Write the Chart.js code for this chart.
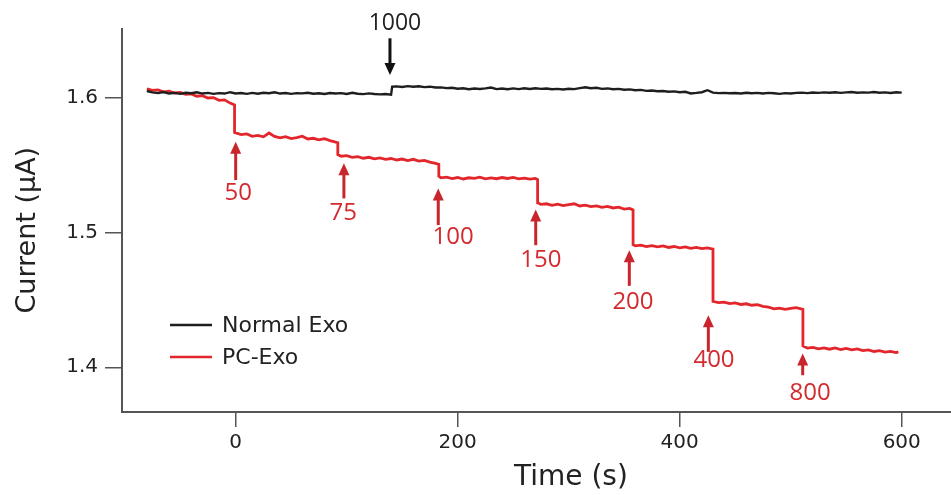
<!DOCTYPE html>
<html>
<head>
<meta charset="utf-8">
<title>Current vs time</title>
<script src="https://cdn.jsdelivr.net/npm/chart.js@4"></script>
<style>
  body { margin: 0; background: #fff; }
  #chart { display: block; }
</style>
</head>
<body>
<canvas id="chart" width="951" height="495"></canvas>
<script>
  // tick labels
  const xTicks = [0, 200, 400, 600];
  const yTicks = [1.4, 1.5, 1.6];

  // Normal Exo (black trace)
  const blackTime = [
    -80, -75, -70, -65, -60, -55, -50, -45, -40, -35, -30, -25, -20, -15, -10, -5,
    0, 5, 10, 15, 20, 25, 30, 35, 40, 45, 50, 55, 60, 65, 70, 75, 80, 85, 90, 95,
    100, 105, 110, 115, 120, 125, 130, 135, 140, 141, 145, 150, 155, 160, 165, 170, 175, 180, 185, 190, 195,
    200, 205, 210, 215, 220, 225, 230, 235, 240, 245, 250, 255, 260, 265, 270, 275, 280, 285, 290, 295,
    300, 305, 310, 315, 320, 325, 330, 335, 340, 345, 350, 355, 360, 365, 370, 375, 380, 385, 390, 395,
    400, 405, 410, 415, 420, 425, 430, 435, 440, 445, 450, 455, 460, 465, 470, 475, 480, 485, 490, 495,
    500, 505, 510, 515, 520, 525, 530, 535, 540, 545, 550, 555, 560, 565, 570, 575, 580, 585, 590, 595, 600
  ];
  const blackCurrent = [
    1.6050, 1.6040, 1.6034, 1.6042, 1.6031, 1.6036, 1.6029, 1.6037, 1.6033, 1.6040, 1.6031, 1.6036, 1.6029, 1.6034, 1.6031, 1.6041,
    1.6032, 1.6035, 1.6029, 1.6036, 1.6030, 1.6037, 1.6033, 1.6040, 1.6031, 1.6035, 1.6029, 1.6034, 1.6032, 1.6037, 1.6030, 1.6033, 1.6028, 1.6035, 1.6031, 1.6034,
    1.6028, 1.6037, 1.6030, 1.6027, 1.6032, 1.6028, 1.6025, 1.6028, 1.6023, 1.6082, 1.6084, 1.6080, 1.6086, 1.6082, 1.6085, 1.6079, 1.6082, 1.6076, 1.6077, 1.6071, 1.6074,
    1.6067, 1.6070, 1.6063, 1.6068, 1.6065, 1.6069, 1.6076, 1.6064, 1.6068, 1.6063, 1.6069, 1.6064, 1.6070, 1.6065, 1.6070, 1.6066, 1.6068, 1.6063, 1.6066, 1.6061,
    1.6067, 1.6064, 1.6071, 1.6078, 1.6070, 1.6074, 1.6066, 1.6069, 1.6063, 1.6066, 1.6059, 1.6062, 1.6056, 1.6058, 1.6051, 1.6054, 1.6048, 1.6050, 1.6044, 1.6047,
    1.6041, 1.6044, 1.6032, 1.6036, 1.6041, 1.6056, 1.6038, 1.6034, 1.6036, 1.6033, 1.6035, 1.6031, 1.6037, 1.6033, 1.6036, 1.6031, 1.6036, 1.6033, 1.6029, 1.6034,
    1.6031, 1.6036, 1.6038, 1.6034, 1.6039, 1.6036, 1.6040, 1.6037, 1.6041, 1.6036, 1.6040, 1.6042, 1.6037, 1.6040, 1.6038, 1.6042, 1.6037, 1.6040, 1.6035, 1.6041, 1.6038
  ];

  // PC-Exo (red trace)
  const redTime = [
    -80, -75, -70, -65, -60, -55, -50, -45, -40, -35, -30, -25, -20, -15, -10, -5, -1,
    -1, 5, 10, 15, 20, 25, 30, 35, 40, 45, 50, 55, 60, 65, 70, 75, 80, 85, 90, 92,
    92, 95, 100, 105, 110, 115, 120, 125, 130, 135, 140, 145, 150, 155, 160, 165, 170, 175, 180, 183,
    183, 185, 190, 195, 200, 205, 210, 215, 220, 225, 230, 235, 240, 245, 250, 255, 260, 265, 270, 272,
    272, 275, 280, 285, 290, 295, 300, 305, 310, 315, 320, 325, 330, 335, 340, 345, 350, 355, 358,
    358, 360, 365, 370, 375, 380, 385, 390, 395, 400, 405, 410, 415, 420, 425, 430,
    430, 435, 440, 445, 450, 455, 460, 465, 470, 475, 480, 485, 490, 495, 500, 505, 511,
    511, 515, 520, 525, 530, 535, 540, 545, 550, 555, 560, 565, 570, 575, 580, 585, 590, 595, 597
  ];
  const redCurrent = [
    1.6065, 1.6054, 1.6058, 1.6044, 1.6049, 1.6035, 1.6040, 1.6025, 1.6028, 1.6011, 1.6015, 1.5998, 1.6001, 1.5981, 1.5984, 1.5960, 1.5946,
    1.5742, 1.5726, 1.5731, 1.5714, 1.5720, 1.5710, 1.5738, 1.5713, 1.5703, 1.5711, 1.5697, 1.5704, 1.5715, 1.5694, 1.5699, 1.5688, 1.5696, 1.5682, 1.5670, 1.5666,
    1.5578, 1.5566, 1.5570, 1.5557, 1.5563, 1.5551, 1.5558, 1.5547, 1.5554, 1.5543, 1.5549, 1.5538, 1.5545, 1.5534, 1.5543, 1.5530, 1.5535, 1.5522, 1.5513, 1.5506,
    1.5417, 1.5406, 1.5411, 1.5400, 1.5408, 1.5397, 1.5406, 1.5401, 1.5410, 1.5398, 1.5405, 1.5399, 1.5408, 1.5401, 1.5409, 1.5398, 1.5404, 1.5396, 1.5401, 1.5393,
    1.5220, 1.5209, 1.5213, 1.5202, 1.5210, 1.5199, 1.5206, 1.5213, 1.5197, 1.5203, 1.5192, 1.5197, 1.5187, 1.5194, 1.5182, 1.5188, 1.5174, 1.5179, 1.5167,
    1.4910, 1.4901, 1.4906, 1.4896, 1.4903, 1.4894, 1.4900, 1.4889, 1.4896, 1.4886, 1.4893, 1.4883, 1.4890, 1.4880, 1.4886, 1.4876,
    1.4488, 1.4479, 1.4483, 1.4472, 1.4477, 1.4466, 1.4471, 1.4460, 1.4464, 1.4452, 1.4446, 1.4433, 1.4439, 1.4430, 1.4437, 1.4443, 1.4430,
    1.4158, 1.4142, 1.4148, 1.4137, 1.4144, 1.4134, 1.4143, 1.4131, 1.4140, 1.4129, 1.4136, 1.4124, 1.4129, 1.4117, 1.4123, 1.4112, 1.4118, 1.4109, 1.4114
  ];

  // dose annotations (arrow position in data units)
  const doseLabels = ["50", "75", "100", "150", "200", "400", "800"];
  const doseTime = [0, 97.5, 182.5, 270.3, 354.6, 425.8, 510.8];
  const doseTip = [1.5673, 1.5513, 1.5327, 1.5171, 1.4869, 1.4386, 1.4102];
  const doseTail = [1.5389, 1.5253, 1.5055, 1.4906, 1.4604, 1.4114, 1.3941];
  const doseLabelTime = [2.3, 96.9, 195.8, 275, 357.9, 430.9, 517.4];
  const doseLabelCurrent = [1.529, 1.5141, 1.4962, 1.4795, 1.4483, 1.4052, 1.3805];

  const controlLabel = "1000";
  const controlTime = 139;
  const controlTail = 1.6441;
  const controlTip = 1.6169;
  const controlLabelCurrent = 1.655;

  const toPoints = (ts, vs) => ts.map((t, i) => ({ x: t, y: vs[i] }));

  function drawArrow(ctx, x, yTail, yTip, color) {
    const dir = yTip < yTail ? -1 : 1;
    ctx.save();
    ctx.strokeStyle = color;
    ctx.fillStyle = color;
    ctx.lineWidth = 3;
    ctx.beginPath();
    ctx.moveTo(x, yTail);
    ctx.lineTo(x, yTip - dir * 9);
    ctx.stroke();
    ctx.beginPath();
    ctx.moveTo(x, yTip);
    ctx.lineTo(x - 5.5, yTip - dir * 12);
    ctx.lineTo(x + 5.5, yTip - dir * 12);
    ctx.closePath();
    ctx.fill();
    ctx.restore();
  }

  const annotations = {
    id: "annotations",
    afterDraw(chart) {
      const ctx = chart.ctx;
      const xs = chart.scales.x, ys = chart.scales.y;
      const area = chart.chartArea;

      ctx.save();
      ctx.textAlign = "center";
      ctx.textBaseline = "middle";
      ctx.font = "24px 'Open Sans'";
      doseLabels.forEach((lab, i) => {
        const x = xs.getPixelForValue(doseTime[i]);
        drawArrow(ctx, x, ys.getPixelForValue(doseTail[i]), ys.getPixelForValue(doseTip[i]), "#c8262c");
        ctx.fillStyle = "#d32a2e";
        ctx.fillText(lab, xs.getPixelForValue(doseLabelTime[i]), ys.getPixelForValue(doseLabelCurrent[i]));
      });

      const cx = xs.getPixelForValue(controlTime);
      drawArrow(ctx, cx, ys.getPixelForValue(controlTail), ys.getPixelForValue(controlTip), "#111");
      ctx.fillStyle = "#222";
      ctx.font = "23px 'Open Sans'";
      ctx.fillText(controlLabel, cx + 5, ys.getPixelForValue(controlLabelCurrent));

      // legend
      ctx.font = "22px 'DejaVu Sans'";
      ctx.textAlign = "left";
      chart.data.datasets.forEach((ds, i) => {
        const y = area.top + 296 + i * 32;
        ctx.strokeStyle = ds.borderColor;
        ctx.lineWidth = 2.5;
        ctx.beginPath();
        ctx.moveTo(area.left + 48, y);
        ctx.lineTo(area.left + 90, y);
        ctx.stroke();
        ctx.fillStyle = "#222";
        ctx.fillText(ds.label, area.left + 100, y + 1);
      });

      // axis titles
      ctx.fillStyle = "#222";
      ctx.textAlign = "center";
      ctx.font = "28px 'DejaVu Sans'";
      ctx.fillText("Time (s)", xs.getPixelForValue(302), area.bottom + 66);
      ctx.translate(area.left - 94, ys.getPixelForValue(1.5017));
      ctx.rotate(-Math.PI / 2);
      ctx.font = "27px 'DejaVu Sans'";
      ctx.fillText("Current (μA)", 0, 0);
      ctx.restore();
    }
  };

  const axisGrid = (len) => ({
    drawOnChartArea: false,
    drawTicks: true,
    tickLength: len,
    color: "#555",
    lineWidth: 1.5
  });

  new Chart(document.getElementById("chart"), {
    type: "line",
    data: {
      datasets: [
        {
          label: "Normal Exo",
          data: toPoints(blackTime, blackCurrent),
          borderColor: "#1e1e1e",
          borderWidth: 2.4
        },
        {
          label: "PC-Exo",
          data: toPoints(redTime, redCurrent),
          borderColor: "#e3262b",
          borderWidth: 2.8
        }
      ]
    },
    options: {
      responsive: false,
      animation: false,
      devicePixelRatio: 1,
      layout: { padding: { top: 29, left: 0, right: 0, bottom: 0 } },
      elements: { point: { radius: 0 }, line: { tension: 0 } },
      plugins: { legend: { display: false }, tooltip: { enabled: false } },
      scales: {
        x: {
          type: "linear",
          min: -102.4,
          max: 644.4,
          afterBuildTicks: (s) => { s.ticks = xTicks.map((v) => ({ value: v })); },
          afterFit: (s) => { s.height = 83; },
          grid: axisGrid(15),
          border: { color: "#555", width: 2 },
          ticks: {
            font: { family: "DejaVu Sans", size: 20 },
            color: "#222",
            padding: 4,
            maxRotation: 0,
            autoSkip: false,
            callback: (v) => String(v)
          }
        },
        y: {
          type: "linear",
          min: 1.3668,
          max: 1.651,
          afterBuildTicks: (s) => { s.ticks = yTicks.map((v) => ({ value: v })); },
          afterFit: (s) => { s.width = 122; },
          grid: axisGrid(17),
          border: { color: "#555", width: 2 },
          ticks: {
            font: { family: "DejaVu Sans", size: 20 },
            color: "#222",
            padding: 7,
            callback: (v) => v.toFixed(1)
          }
        }
      }
    },
    plugins: [annotations]
  });
</script>
</body>
</html>
